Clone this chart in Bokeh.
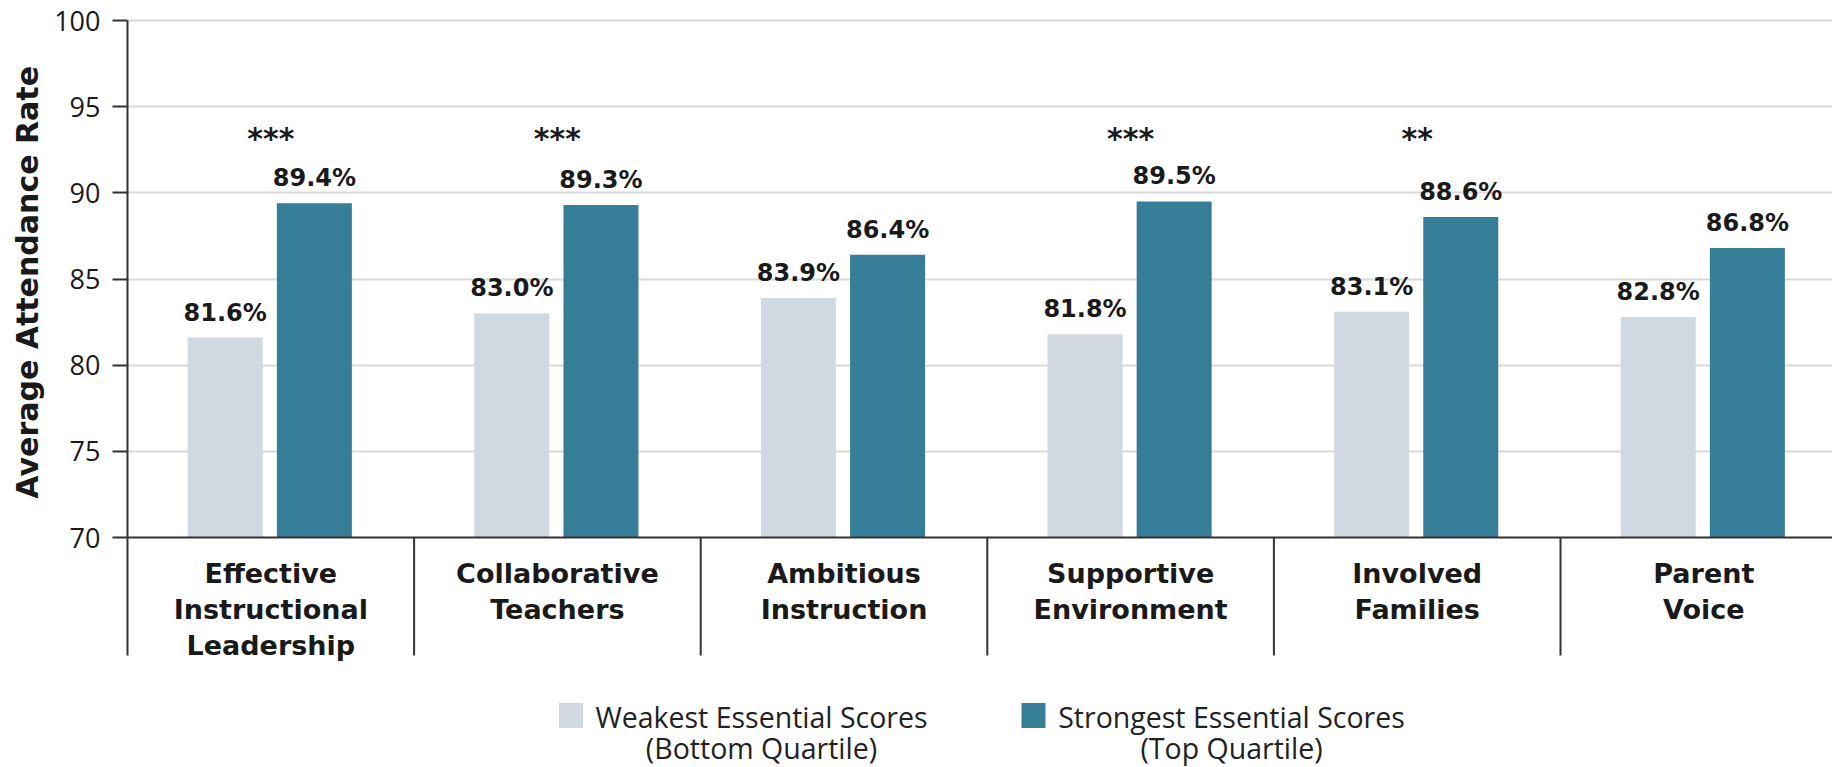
from bokeh.plotting import figure
from bokeh.models import Range1d, FixedTicker, Span, Title
from bokeh.core.properties import value
from bokeh.embed import file_html
from bokeh.resources import INLINE

# ---------------- data ----------------
category_lines = [
    ["Effective", "Instructional", "Leadership"],
    ["Collaborative", "Teachers"],
    ["Ambitious", "Instruction"],
    ["Supportive", "Environment"],
    ["Involved", "Families"],
    ["Parent", "Voice"],
]
weakest = [81.6, 83.0, 83.9, 81.8, 83.1, 82.8]
strongest = [89.4, 89.3, 86.4, 89.5, 88.6, 86.8]
significance = ["***", "***", "", "***", "**", ""]
legend_lines = [
    ["Weakest Essential Scores", "(Bottom Quartile)"],
    ["Strongest Essential Scores", "(Top Quartile)"],
]
y_ticks = [70, 75, 80, 85, 90, 95, 100]
y_label = "Average Attendance Rate"

# ---------------- layout ----------------
W, H = 1832, 767
LEFT = 127          # frame left edge (px)
TOP = 10            # frame top (px)
Y100 = 20           # px of value 100
Y70 = 537           # px of value 70
PX = (Y70 - Y100) / 30.0
CAT_PX = 286.6
LIGHT = "#D0D9E1"
DARK = "#367D97"
INK = "#1a1a1a"
AX = "#333333"

def y_of(py):
    return 70 - (py - Y70) / PX

def x_of(px):
    return (px - LEFT) / CAT_PX

n = len(weakest)
p = figure(width=W, height=H, output_backend="svg", toolbar_location=None,
           x_range=Range1d(0, (W - LEFT) / CAT_PX),
           y_range=Range1d(y_of(H), y_of(TOP)),
           x_axis_location=None, title=None,
           min_border_left=LEFT, min_border_right=0,
           min_border_top=TOP, min_border_bottom=0)
p.outline_line_color = None
p.background_fill_color = "white"
p.xgrid.visible = False

# y axis
ya = p.yaxis[0]
ya.ticker = FixedTicker(ticks=y_ticks)
ya.bounds = (y_of(655), 100)
ya.axis_line_color = AX
ya.axis_line_width = 2
ya.major_tick_line_color = AX
ya.major_tick_line_width = 2
ya.major_tick_out = 15
ya.major_tick_in = 0
ya.minor_tick_line_color = None
ya.major_label_standoff = 12
ya.major_label_text_font = "Open Sans"
ya.major_label_text_font_size = "27px"
ya.major_label_text_color = INK

# y axis title, end of text placed so the text is centred on the value axis
TITLE_LEN = 433
p.add_layout(Title(text=y_label, align="right",
                   offset=282 - TOP - TITLE_LEN / 2,
                   text_font="DejaVu Sans", text_font_size="30px",
                   text_font_style="bold", text_color=INK, standoff=14), "left")

p.ygrid.ticker = FixedTicker(ticks=[t for t in y_ticks if t > 70])
p.ygrid.grid_line_color = "#d9d9d9"
p.ygrid.grid_line_width = 2

# bars
centers = [i + 0.5 for i in range(n)]
bw = 75 / CAT_PX
xl = [c - 0.159 for c in centers]
xd = [c + 0.152 for c in centers]
p.vbar(x=xl, top=weakest, bottom=70, width=bw, fill_color=LIGHT, line_color=None)
p.vbar(x=xd, top=strongest, bottom=70, width=bw, fill_color=DARK, line_color=None)

# baseline and separators
p.add_layout(Span(location=70, dimension="width", line_color=AX, line_width=2))
seps = list(range(1, n))
p.segment(x0=seps, x1=seps, y0=[70] * len(seps), y1=[y_of(655)] * len(seps),
          line_color=AX, line_width=2)

# value labels
gap = 25 / PX
p.text(x=xl, y=[v + gap for v in weakest], text=[f"{v:.1f}%" for v in weakest],
       text_align="center", text_baseline="middle",
       text_font=value("DejaVu Sans"), text_font_size="24px",
       text_font_style="bold", text_color=INK)
p.text(x=xd, y=[v + gap for v in strongest], text=[f"{v:.1f}%" for v in strongest],
       text_align="center", text_baseline="middle",
       text_font=value("DejaVu Sans"), text_font_size="24px",
       text_font_style="bold", text_color=INK)

# significance stars
p.text(x=centers, y=[y_of(138)] * n, text=significance,
       text_align="center", text_baseline="middle",
       text_font=value("DejaVu Sans"), text_font_size="30px",
       text_font_style="bold", text_color=INK)

# category labels
lx, ly, lt = [], [], []
for i, lines in enumerate(category_lines):
    for k, s in enumerate(lines):
        lx.append(centers[i])
        ly.append(y_of(573 + 36 * k))
        lt.append(s)
p.text(x=lx, y=ly, text=lt, text_align="center", text_baseline="middle",
       text_font=value("DejaVu Sans"), text_font_size="27px",
       text_font_style="bold", text_color=INK)

# legend
sw_x = [x_of(570.5), x_of(1033)]
tx_x = [x_of(761), x_of(1231)]
p.rect(x=sw_x, y=[y_of(715)] * 2, width=24, height=25,
       width_units="screen", height_units="screen",
       fill_color=[LIGHT, DARK], line_color=None)
gx, gy, gt = [], [], []
for j, lines in enumerate(legend_lines):
    for k, s in enumerate(lines):
        gx.append(tx_x[j])
        gy.append(y_of(716 + 31 * k))
        gt.append(s)
p.text(x=gx, y=gy, text=gt, text_align="center", text_baseline="middle",
       text_font=value("Open Sans"), text_font_size="28.5px", text_color="#222222")

open("out.html", "w").write(file_html(p, INLINE))
